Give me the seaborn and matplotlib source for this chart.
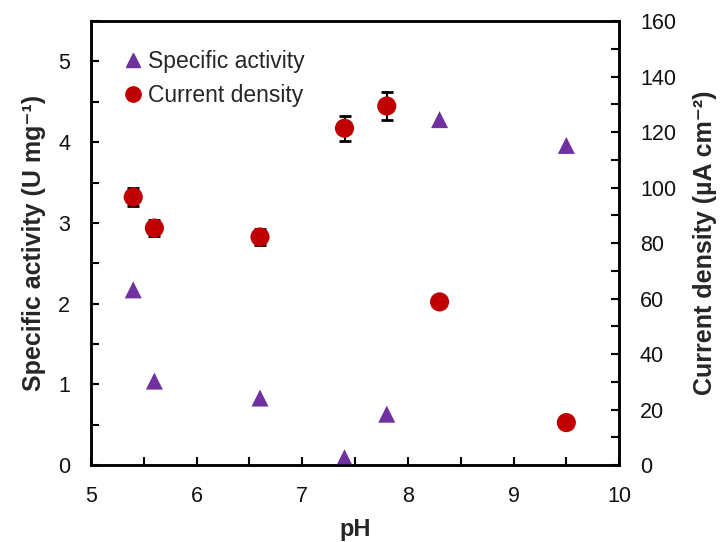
import matplotlib
matplotlib.use("Agg")
import matplotlib.pyplot as plt
from matplotlib.ticker import MultipleLocator
from matplotlib.lines import Line2D
import seaborn as sns
import pandas as pd

ph_activity = [5.4, 5.6, 6.6, 7.4, 7.8, 8.3, 9.5]
specific_activity = [2.17, 1.04, 0.83, 0.09, 0.63, 4.28, 3.96]

ph_current = [5.4, 5.6, 6.6, 7.4, 7.8, 8.3, 9.5]
current_density = [96.6, 85.4, 82.2, 121.4, 129.4, 58.8, 15.3]
current_err = [3.3, 2.8, 2.8, 4.5, 5.0, 1.0, 0.5]

sns.set_theme(style="white")
plt.rcParams['font.family'] = ['Liberation Sans', 'DejaVu Sans']

fig = plt.figure(figsize=(7.25, 5.42), dpi=100)
ax = fig.add_axes([0.1255, 0.142, 0.7285, 0.819])
ax2 = ax.twinx()

purple = '#7030A0'
red = '#C00000'

df_a = pd.DataFrame({'pH': ph_activity, 'sa': specific_activity})
df_c = pd.DataFrame({'pH': ph_current, 'cd': current_density, 'err': current_err})

sns.scatterplot(data=df_a, x='pH', y='sa', ax=ax, marker='^', s=150,
                color=purple, edgecolor='none', zorder=3, legend=False)
ax2.errorbar(df_c['pH'], df_c['cd'], yerr=df_c['err'], fmt='none',
             ecolor='black', elinewidth=1.5, capsize=4, capthick=2, zorder=2)
sns.scatterplot(data=df_c, x='pH', y='cd', ax=ax2, marker='o', s=190,
                color=red, edgecolor='none', zorder=3, legend=False)

ax.set_xlim(5, 10)
ax.set_ylim(0, 5.5)
ax2.set_ylim(0, 160)

ax.xaxis.set_major_locator(MultipleLocator(1))
ax.xaxis.set_minor_locator(MultipleLocator(0.5))
ax.yaxis.set_major_locator(MultipleLocator(1))
ax.yaxis.set_minor_locator(MultipleLocator(0.5))
ax2.yaxis.set_major_locator(MultipleLocator(20))
ax2.yaxis.set_minor_locator(MultipleLocator(10))

for a in (ax, ax2):
    for sp in a.spines.values():
        sp.set_color('black')
        sp.set_linewidth(1.8)
    a.tick_params(which='both', direction='in', length=6, width=1.5,
                  color='black', labelsize=15.5, labelcolor='#111111')

ax.tick_params(axis='x', which='both', bottom=True, top=False, pad=15)
ax.tick_params(axis='y', which='both', left=True, right=False, pad=15)
ax2.tick_params(axis='y', which='both', right=True, left=False, pad=15)

ax.set_xlabel('pH', fontsize=17, fontweight='bold', labelpad=8)
ax.set_ylabel('Specific activity (U mg⁻¹)', fontsize=18,
              fontweight='bold', labelpad=9)
ax2.set_ylabel('Current density (µA cm⁻²)', fontsize=18,
               fontweight='bold', labelpad=12)

handles = [
    Line2D([], [], marker='^', linestyle='none', color=purple, markersize=10),
    Line2D([], [], marker='o', linestyle='none', color=red, markersize=11),
]
leg = ax.legend(handles, ['Specific activity', 'Current density'],
                loc='upper left', bbox_to_anchor=(0.04, 0.955), frameon=False,
                fontsize=16.5, handletextpad=0.15, handlelength=1.0,
                labelspacing=0.45, borderaxespad=0)

fig.savefig('out.png', dpi=100)
